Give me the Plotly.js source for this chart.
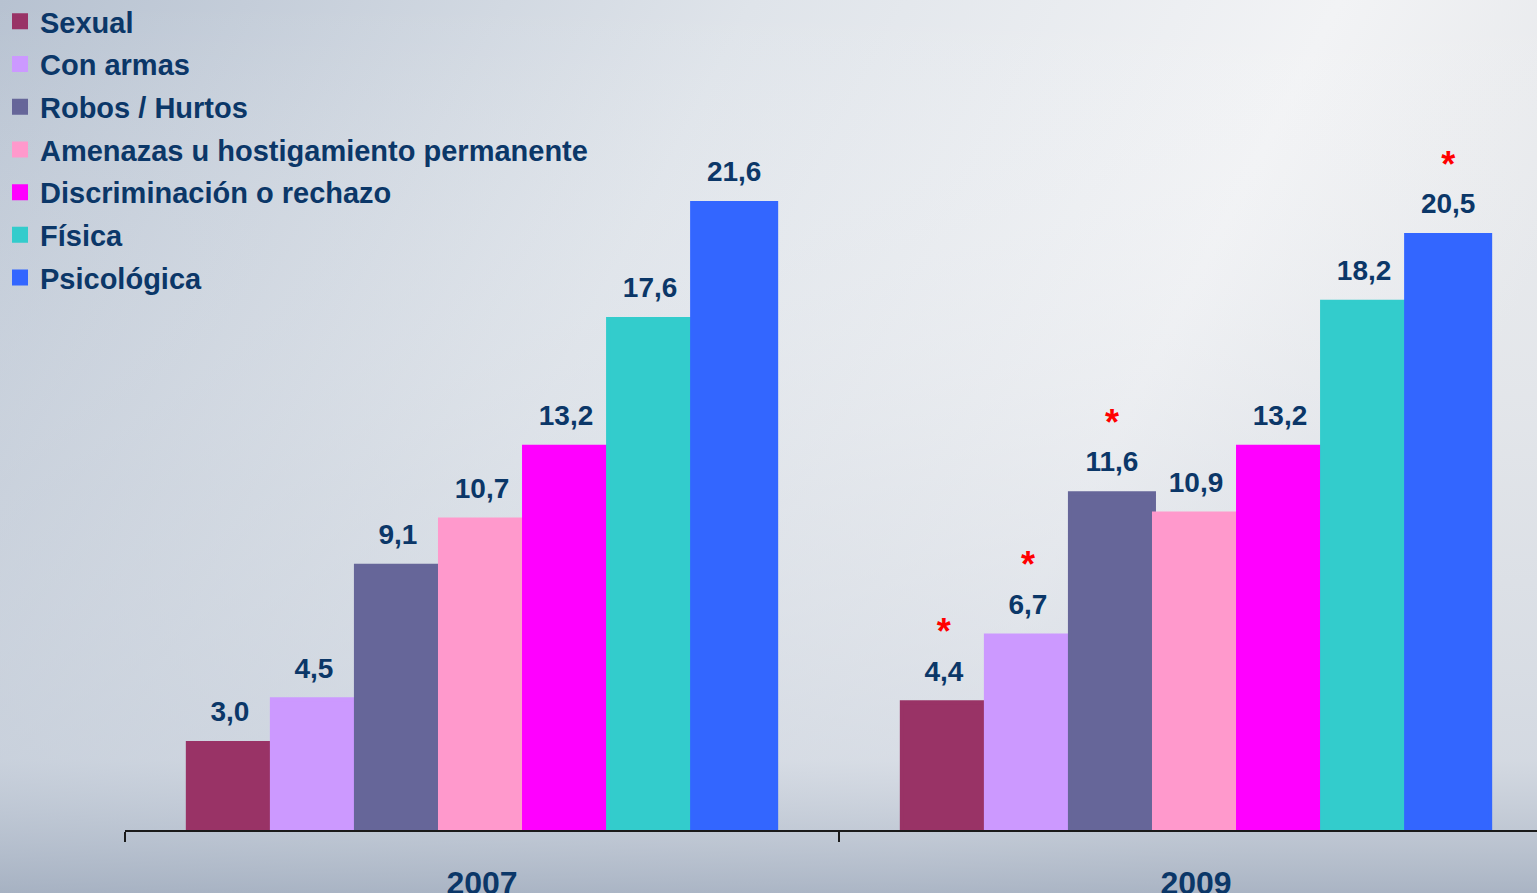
<!DOCTYPE html>
<html>
<head>
<meta charset="utf-8">
<script src="https://cdn.plot.ly/plotly-3.0.1.min.js"></script>
<style>
  html, body { margin: 0; padding: 0; background: #d6dde6; }
  #chart { width: 1537px; height: 893px; }
</style>
</head>
<body>
<div id="chart"></div>
<script>
// categories (years) and series values
var years = ['2007', '2009'];

var seriesNames = [
  'Sexual',
  'Con armas',
  'Robos / Hurtos',
  'Amenazas u hostigamiento permanente',
  'Discriminación o rechazo',
  'Física',
  'Psicológica'
];

var sexual = [3.0, 4.4];
var conArmas = [4.5, 6.7];
var robos = [9.1, 11.6];
var amenazas = [10.7, 10.9];
var discriminacion = [13.2, 13.2];
var fisica = [17.6, 18.2];
var psicologica = [21.6, 20.5];

// significant change 2007 -> 2009 (red asterisk)
var significant = [
  [false, true],
  [false, true],
  [false, true],
  [false, false],
  [false, false],
  [false, false],
  [false, true]
];

var seriesValues = [sexual, conArmas, robos, amenazas, discriminacion, fisica, psicologica];
var colors = ['#993366', '#cc99ff', '#666699', '#ff99cc', '#ff00ff', '#33cccc', '#3366ff'];

var navy = '#0b3768';
var font = 'Liberation Sans, Arial, sans-serif';

function fmt(v) {
  return v.toFixed(1).replace('.', ',');
}

var data = [];

// the bars (same-colour outline only to get bigger legend squares)
seriesValues.forEach(function (vals, i) {
  data.push({
    type: 'bar',
    name: seriesNames[i],
    legendgroup: 'g' + i,
    x: years,
    y: vals,
    marker: { color: colors[i], line: { color: colors[i], width: 4 } },
    hoverinfo: 'skip'
  });
});

// value labels (+ asterisks), grouped the same way as the bars
seriesValues.forEach(function (vals, i) {
  var txt = vals.map(function (v, k) {
    var s = '<b>' + fmt(v) + '</b>';
    if (significant[i][k]) {
      s = '<span style="color:#ff0000;font-size:36px"><b>*</b></span><br>' + s;
    }
    return s;
  });
  data.push({
    type: 'scatter',
    mode: 'markers+text',
    x: years,
    y: vals,
    text: txt,
    textposition: 'top center',
    textfont: { family: font, size: 28, color: navy },
    marker: { size: 22, opacity: 0 },
    showlegend: false,
    hoverinfo: 'skip',
    cliponaxis: false
  });
});

// soft cloudy background
var bgSvg =
  '<svg xmlns="http://www.w3.org/2000/svg" width="1537" height="893">' +
  '<defs>' +
  '<linearGradient id="g" x1="0" y1="0" x2="1" y2="0.3">' +
  '<stop offset="0" stop-color="#b7c2d1"/>' +
  '<stop offset="0.45" stop-color="#dfe4ea"/>' +
  '<stop offset="0.8" stop-color="#f2f3f5"/>' +
  '<stop offset="1" stop-color="#e6e8eb"/>' +
  '</linearGradient>' +
  '<linearGradient id="v" x1="0" y1="0" x2="0" y2="1">' +
  '<stop offset="0" stop-color="#ffffff" stop-opacity="0"/>' +
  '<stop offset="0.55" stop-color="#d3d9e2" stop-opacity="0.35"/>' +
  '<stop offset="0.85" stop-color="#c7cfdb" stop-opacity="0.6"/>' +
  '<stop offset="1" stop-color="#9fabbd" stop-opacity="0.85"/>' +
  '</linearGradient>' +
  '</defs>' +
  '<rect width="1537" height="893" fill="url(#g)"/>' +
  '<rect width="1537" height="893" fill="url(#v)"/>' +
  '</svg>';
var bgUri = 'data:image/svg+xml;charset=utf-8,' + encodeURIComponent(bgSvg);

var W = 1537, H = 893;
var mL = 125, mR = 0, mT = 0, mB = 63;
var pw = W - mL - mR, ph = H - mT - mB;

var layout = {
  width: W,
  height: H,
  margin: { l: mL, r: mR, t: mT, b: mB, pad: 0, autoexpand: false },
  paper_bgcolor: '#d6dde6',
  plot_bgcolor: 'rgba(0,0,0,0)',
  barmode: 'group',
  bargap: 0.176,
  bargroupgap: 0,
  scattermode: 'group',
  scattergap: 0.176,
  showlegend: true,
  hovermode: false,
  font: { family: font, color: navy },
  images: [{
    source: bgUri,
    xref: 'paper', yref: 'paper',
    x: -mL / pw, y: 1 + mT / ph,
    sizex: W / pw, sizey: H / ph,
    xanchor: 'left', yanchor: 'top',
    sizing: 'stretch',
    layer: 'below'
  }],
  legend: {
    xref: 'container', yref: 'paper',
    x: 0, y: 1 + 4 / ph,
    xanchor: 'left', yanchor: 'top',
    bgcolor: 'rgba(0,0,0,0)',
    borderwidth: 0,
    traceorder: 'grouped',
    font: { family: font, size: 29, color: navy, weight: 'bold' },
    tracegroupgap: 2
  },
  xaxis: {
    type: 'category',
    range: [-0.5, -0.5 + pw / 714],
    showline: true,
    linecolor: '#1a1a1a',
    linewidth: 2,
    ticks: 'outside',
    tickson: 'boundaries',
    ticklen: 10,
    tickwidth: 2,
    tickcolor: '#1a1a1a',
    ticklabelstandoff: 24,
    tickfont: { family: font, size: 32, color: navy, weight: 'bold' },
    showgrid: false,
    zeroline: false,
    fixedrange: true
  },
  yaxis: {
    range: [0, ph / 29.03],
    visible: false,
    showgrid: false,
    zeroline: false,
    fixedrange: true
  }
};

Plotly.newPlot('chart', data, layout, { displayModeBar: false, staticPlot: true });
</script>
</body>
</html>
